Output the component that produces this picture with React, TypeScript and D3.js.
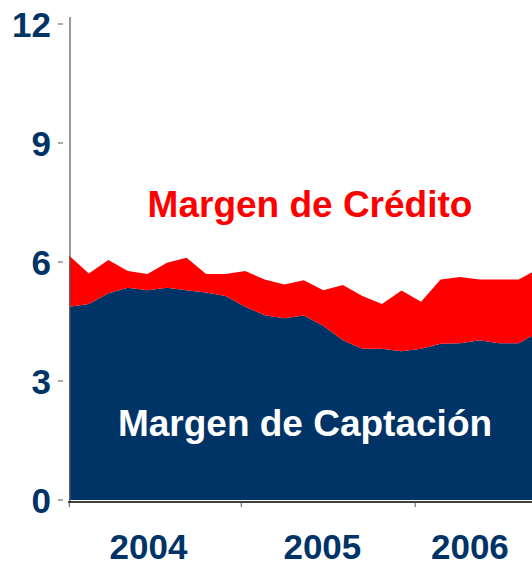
import * as d3 from 'd3';

// periodos (índice de observación) y valores
const periods = d3.range(25);
const margenCaptacion = [
  4.87, 4.94, 5.21, 5.35, 5.29, 5.35, 5.29, 5.23, 5.14, 4.87, 4.66, 4.58, 4.65,
  4.39, 4.03, 3.81, 3.81, 3.75, 3.81, 3.94, 3.95, 4.03, 3.95, 3.95, 4.23,
];
const margenCredito = [
  1.29, 0.77, 0.84, 0.42, 0.41, 0.63, 0.82, 0.47, 0.56, 0.9, 0.9, 0.85, 0.89,
  0.9, 1.39, 1.33, 1.13, 1.53, 1.19, 1.62, 1.67, 1.53, 1.61, 1.61, 1.6,
];
const seriesKeys = ['captacion', 'credito'];
const yTicks = [0, 3, 6, 9, 12];
const yearTicks = [0, 8.8, 17.7];
const yearLabels = ['2004', '2005', '2006'];
const yearLabelPos = [4.05, 12.95, 20.5];

const W = 532;
const H = 567;
const NAVY = '#003366';
const RED = '#ff0000';
const FONT = '"Liberation Sans", Arial, sans-serif';

export default function App() {
  const x = d3.scaleLinear().domain([0, 24]).range([69.3, 538.3]);
  const y = d3.scaleLinear().domain([0, 12]).range([500, 24]);

  const rows = periods.map((p, i) => ({
    period: p,
    captacion: margenCaptacion[i],
    credito: margenCredito[i],
  }));
  const stacked = d3.stack<any>().keys(seriesKeys)(rows);

  const area = d3
    .area<any>()
    .x((d) => x(d.data.period))
    .y0((d) => y(d[0]))
    .y1((d) => y(d[1]));

  const colors = [NAVY, RED];
  const axisY = y(0) + 2;

  return (
    <svg
      width={W}
      height={H}
      style={{ position: 'absolute', left: 0, top: 0, background: '#fff' }}
      fontFamily={FONT}
      fontWeight="bold"
    >
      {stacked.map((s, i) => (
        <path key={s.key} d={area(s as any)!} fill={colors[i]} />
      ))}

      {/* eje y */}
      <line x1={70} x2={70} y1={17} y2={axisY} stroke="#555" strokeWidth={1.2} />
      {yTicks.map((t) => (
        <g key={t} transform={`translate(0,${y(t)})`}>
          <line x1={58} x2={63} stroke="#555" strokeWidth={1} />
          <text
            x={51}
            dy="0.36em"
            textAnchor="end"
            fontSize={35}
            fill={NAVY}
          >
            {t}
          </text>
        </g>
      ))}

      {/* eje x */}
      <line x1={68} x2={W} y1={axisY} y2={axisY} stroke="#000" strokeWidth={1.5} />
      {yearTicks.map((t) => (
        <line
          key={t}
          x1={x(t)}
          x2={x(t)}
          y1={axisY}
          y2={axisY + 5}
          stroke="#555"
          strokeWidth={1}
        />
      ))}
      {yearLabels.map((lab, i) => (
        <text
          key={lab}
          x={x(yearLabelPos[i])}
          y={559}
          textAnchor="middle"
          fontSize={35}
          fill={NAVY}
        >
          {lab}
        </text>
      ))}

      <text x={310} y={217} textAnchor="middle" fontSize={37} fill={RED}>
        Margen de Crédito
      </text>
      <text x={305} y={436} textAnchor="middle" fontSize={37} fill="#fff">
        Margen de Captación
      </text>
    </svg>
  );
}
